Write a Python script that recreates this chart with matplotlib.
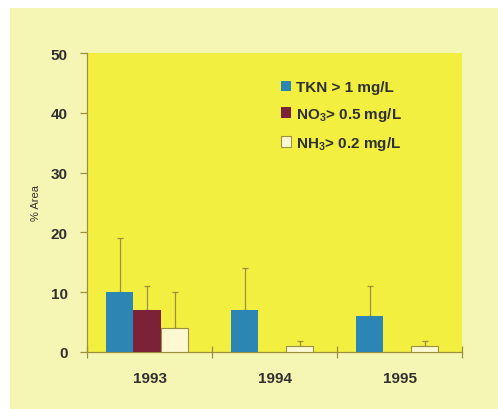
import matplotlib
matplotlib.use('Agg')
import matplotlib.pyplot as plt
import numpy as np

years = ['1993', '1994', '1995']
series = ['TKN > 1 mg/L', 'NO$_3$> 0.5 mg/L', 'NH$_3$> 0.2 mg/L']
tkn = [10, 7, 6]
no3 = [7, 0, 0]
nh3 = [4, 1, 1]
tkn_err = [9, 7, 5]
no3_err = [4, 0, 0]
nh3_err = [6, 0.8, 0.8]

plt.rcParams['font.family'] = ['Liberation Sans', 'DejaVu Sans']
plt.rcParams['mathtext.fontset'] = 'custom'
plt.rcParams['mathtext.rm'] = 'Liberation Sans:bold'

panel_bg = '#f6f6b4'
axes_bg = '#f3ef40'
line_col = '#9a9040'
text_col = '#303030'
colors = ['#2b86b4', '#7b2238', '#fbf8d2']

fig = plt.figure(figsize=(4.98, 4.10), dpi=100, facecolor='white')
# pale yellow panel behind the chart
fig.add_artist(plt.Rectangle((10 / 498, 0), 1, 1 - 9 / 410, transform=fig.transFigure,
                             facecolor=panel_bg, edgecolor='none', zorder=-10))
ax = fig.add_axes([87 / 498, 1 - 353 / 410, 375 / 498, 299 / 410])
ax.set_facecolor(axes_bg)

x = np.arange(len(years))
w = 0.22
shift = -0.02
data = [tkn, no3, nh3]
errs = [tkn_err, no3_err, nh3_err]
for i, (vals, e) in enumerate(zip(data, errs)):
    pos = x + shift + (i - 1) * w
    ec = line_col if i == 2 else 'none'
    ax.bar(pos, vals, w, color=colors[i], edgecolor=ec, linewidth=0.8,
           label=series[i], zorder=3)
    show = [j for j in range(len(vals)) if e[j] > 0]
    ax.errorbar(pos[show], np.array(vals)[show], yerr=[np.zeros(len(show)), np.array(e)[show]],
                fmt='none', ecolor=line_col, elinewidth=0.9, capsize=2.5, capthick=0.9, zorder=2)

ax.set_xlim(-0.5, 2.5)
ax.set_ylim(0, 50)
ax.set_yticks([0, 10, 20, 30, 40, 50])
ax.set_xticks([-0.5, 0.5, 1.5, 2.5])
ax.set_xticklabels([])
ax.set_xticks(x, minor=True)
ax.set_xticklabels(years, minor=True)
ax.tick_params(axis='x', which='minor', length=0, pad=14, labelsize=11)
ax.tick_params(axis='x', which='major', direction='inout', length=8, color=line_col, width=0.9)
ax.tick_params(axis='y', direction='out', length=5, color=line_col, width=0.9, labelsize=11, pad=9)
for lbl in ax.get_xticklabels(minor=True) + ax.get_yticklabels():
    lbl.set_color(text_col)
    lbl.set_fontweight('bold')

for s in ['top', 'right']:
    ax.spines[s].set_visible(False)
for s in ['left', 'bottom']:
    ax.spines[s].set_color(line_col)
    ax.spines[s].set_linewidth(0.9)

ax.set_ylabel('% Area', fontsize=8, color=text_col, labelpad=7)

leg = ax.legend(loc='upper left', bbox_to_anchor=(0.48, 0.955), frameon=False,
                prop={'size': 11, 'weight': 'bold'}, handlelength=0.7, handleheight=0.7,
                handletextpad=0.3, labelspacing=0.7)
for t in leg.get_texts():
    t.set_color(text_col)

fig.savefig('out.png', dpi=100, facecolor=fig.get_facecolor())
